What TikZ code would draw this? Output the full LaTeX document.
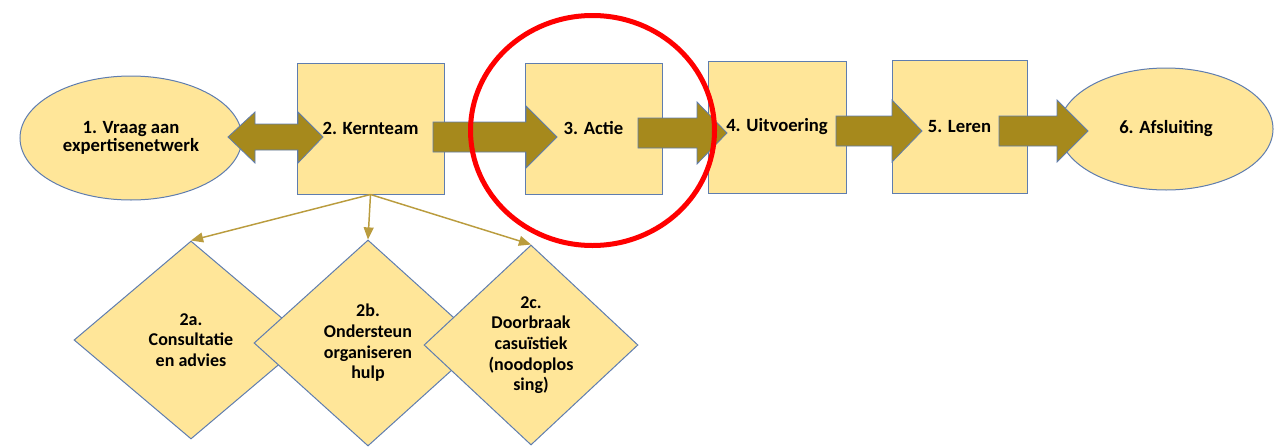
\documentclass[tikz,border=0pt]{standalone}
\usepackage{fontspec}
\setmainfont{Carlito}
\usetikzlibrary{arrows,shapes.geometric}

\definecolor{boxfill}{RGB}{255,230,153}
\definecolor{boxline}{RGB}{95,125,175}
\definecolor{flowgold}{RGB}{166,137,28}
\definecolor{linkgold}{RGB}{186,156,62}

% block arrow: start, head base, tip, centre line
\newcommand{\blockarrow}[4]{%
  \draw[flow] (#1,#4-15) -- (#2,#4-15) -- (#2,#4-31) -- (#3,#4)
    -- (#2,#4+31) -- (#2,#4+15) -- (#1,#4+15) -- cycle;}

\begin{document}
\begin{tikzpicture}[x=0.75pt,y=-0.75pt,>=triangle 45,
        every node/.style={font=\bfseries\fontsize{14}{15}\selectfont,align=center,inner sep=0pt},
        phase/.style={rectangle,draw=boxline,fill=boxfill,line width=0.75pt},
        terminal/.style={ellipse,draw=boxline,fill=boxfill,line width=0.75pt},
        option/.style={diamond,draw=boxline,fill=boxfill,line width=0.75pt,
            font=\bfseries\fontsize{13.5}{15.5}\selectfont},
        flow/.style={fill=flowgold,draw=boxline,line width=0.6pt},
        link/.style={->,draw=linkgold,line width=1.1pt},
        highlight/.style={ellipse,draw=red,line width=3.75pt}]
        \useasboundingbox (0,0) rectangle (1276,446);

        % main row
        \node[terminal, minimum width=166.5pt, minimum height=93pt,
              font=\bfseries\fontsize{14}{14}\selectfont] (1) at (131,138) {1. Vraag aan\\expertisenetwerk};
        \node[phase, minimum width=110.25pt, minimum height=98.25pt] (2) at (370.5,128.5) {2. Kernteam};
        \node[phase, minimum width=102.75pt, minimum height=98.25pt] (3) at (593.5,128.5) {3. Actie};
        \node[phase, minimum width=103.5pt, minimum height=99pt] (4) at (777,127) {4. Uitvoering};
        \node[phase, minimum width=101.25pt, minimum height=99.75pt] (5) at (959.5,126.5) {5. Leren};
        \node[terminal, minimum width=160.5pt, minimum height=91.5pt] (6) at (1166,129) {6. Afsluiting};

        % sub steps of the core team
        \node[option, minimum width=175.5pt, minimum height=148.5pt] (2a) at (191,340) {2a.\\Consultatie\\en advies};
        \node[option, minimum width=171pt, minimum height=154.5pt] (2b) at (368,343) {2b.\\Ondersteun\\organiseren\\hulp};
        \node[option, minimum width=160.5pt, minimum height=150pt] (2c) at (531,345) {2c.\\Doorbraak\\casuïstiek\\(noodoplos\\sing)};

        \draw[link] (2.south) -- (2a.north);
        \draw[link] (2.south) -- (2b.north);
        \draw[link] (2.south) -- (2c.north);

        % big arrows
        \draw[flow] (228,137) -- (255,112) -- (255,124) -- (298,124) -- (298,112) -- (323,137)
            -- (298,163) -- (298,150) -- (255,150) -- (255,163) -- cycle;
        \blockarrow{433}{526}{557}{137}
        \blockarrow{638}{697}{727}{133}
        \blockarrow{836}{892}{922}{131}
        \blockarrow{999}{1057}{1088}{131}

        \node[highlight, minimum width=183pt, minimum height=172.5pt] (ring) at (592.5,130.5) {};
\end{tikzpicture}
\end{document}
